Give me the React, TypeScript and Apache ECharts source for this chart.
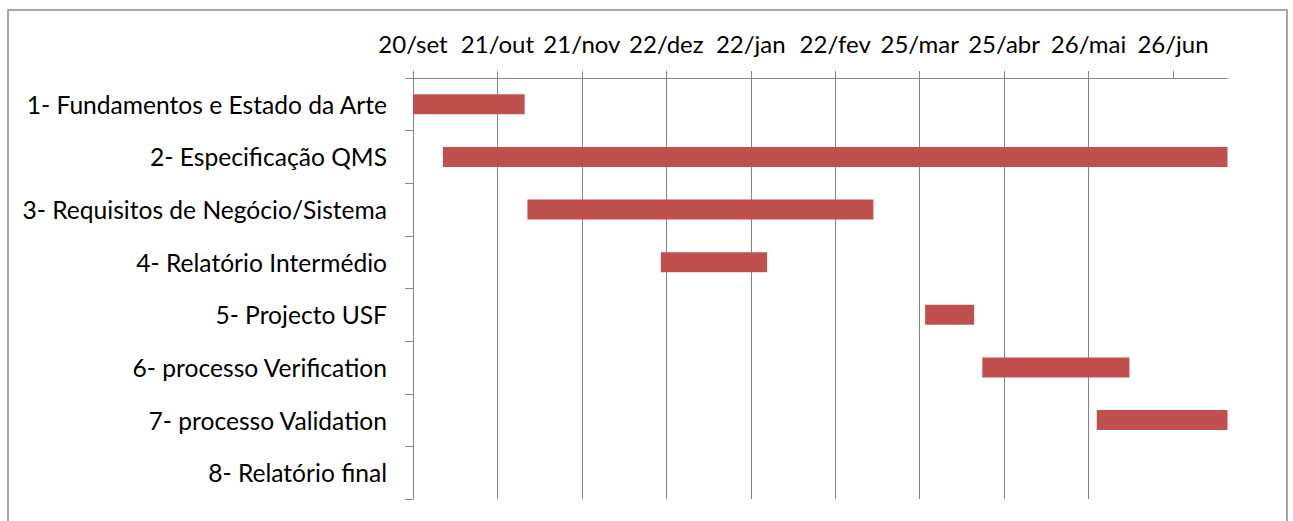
import React, { useEffect, useRef } from "react";
import * as echarts from "echarts";

// Task names (top to bottom)
const categories = [
  "1- Fundamentos e Estado da Arte",
  "2- Especificação QMS",
  "3- Requisitos de Negócio/Sistema",
  "4- Relatório Intermédio",
  "5- Projecto USF",
  "6- processo Verification",
  "7- processo Validation",
  "8- Relatório final",
];

// Start of each task, in days after 20/set (2010-09-20)
const startDays = [0, 11, 42, 91, 188, 209, 251, 0];
// Duration of each task, in days
const durations = [41, 288, 127, 39, 18, 54, 48, 0];

// Date axis tick labels, one every 31 days starting at 20/set
const tickLabels = [
  "20/set", "21/out", "21/nov", "22/dez", "22/jan",
  "22/fev", "25/mar", "25/abr", "26/mai", "26/jun",
];
const tickStep = 31;
const axisMaxDay = 299;

const FONT = "Lato";

export default function App() {
  const ref = useRef<HTMLDivElement>(null);

  useEffect(() => {
    if (!ref.current) return;
    const chart = echarts.init(ref.current, null, { renderer: "svg" });
    const tickValues = tickLabels.map((_, i) => i * tickStep);
    chart.setOption({
      animation: false,
      backgroundColor: "#ffffff",
      graphic: [
        {
          type: "rect",
          shape: { x: 8, y: 10, width: 1279, height: 530 },
          style: { fill: "none", stroke: "#8a8a8a", lineWidth: 1.5 },
          silent: true,
        },
      ],
      grid: { left: 413, right: 65.5, top: 78, bottom: 22, containLabel: false },
      xAxis: {
        type: "value",
        position: "top",
        min: 0,
        max: axisMaxDay,
        interval: tickStep,
        axisLine: { show: true, lineStyle: { color: "#868686", width: 1 } },
        axisTick: {
          show: true,
          length: 7,
          customValues: tickValues,
          lineStyle: { color: "#868686" },
        },
        splitLine: {
          show: true,
          showMaxLine: false,
          lineStyle: { color: "#868686", width: 1 },
        },
        axisLabel: {
          customValues: tickValues,
          margin: 23,
          color: "#000000",
          fontFamily: FONT,
          fontSize: 24,
          formatter: (v: number) => {
            const i = Math.round(v / tickStep);
            return tickLabels[i] ?? "";
          },
        },
      },
      yAxis: {
        type: "category",
        inverse: true,
        data: categories,
        axisLine: { show: true, lineStyle: { color: "#868686", width: 1 } },
        axisTick: { show: true, length: 8, lineStyle: { color: "#868686" } },
        axisLabel: {
          margin: 26,
          color: "#000000",
          fontFamily: FONT,
          fontSize: 24.6,
        },
        splitLine: { show: false },
      },
      series: [
        {
          type: "bar",
          stack: "gantt",
          data: startDays,
          barWidth: 20,
          itemStyle: { color: "transparent" },
          silent: true,
        },
        {
          type: "bar",
          stack: "gantt",
          data: durations,
          barWidth: 20,
          itemStyle: { color: "#C0504D", borderWidth: 0 },
        },
      ],
    });
    return () => chart.dispose();
  }, []);

  return (
    <div
      ref={ref}
      style={{ position: "fixed", left: 0, top: 0, width: 1293, height: 521 }}
    />
  );
}
